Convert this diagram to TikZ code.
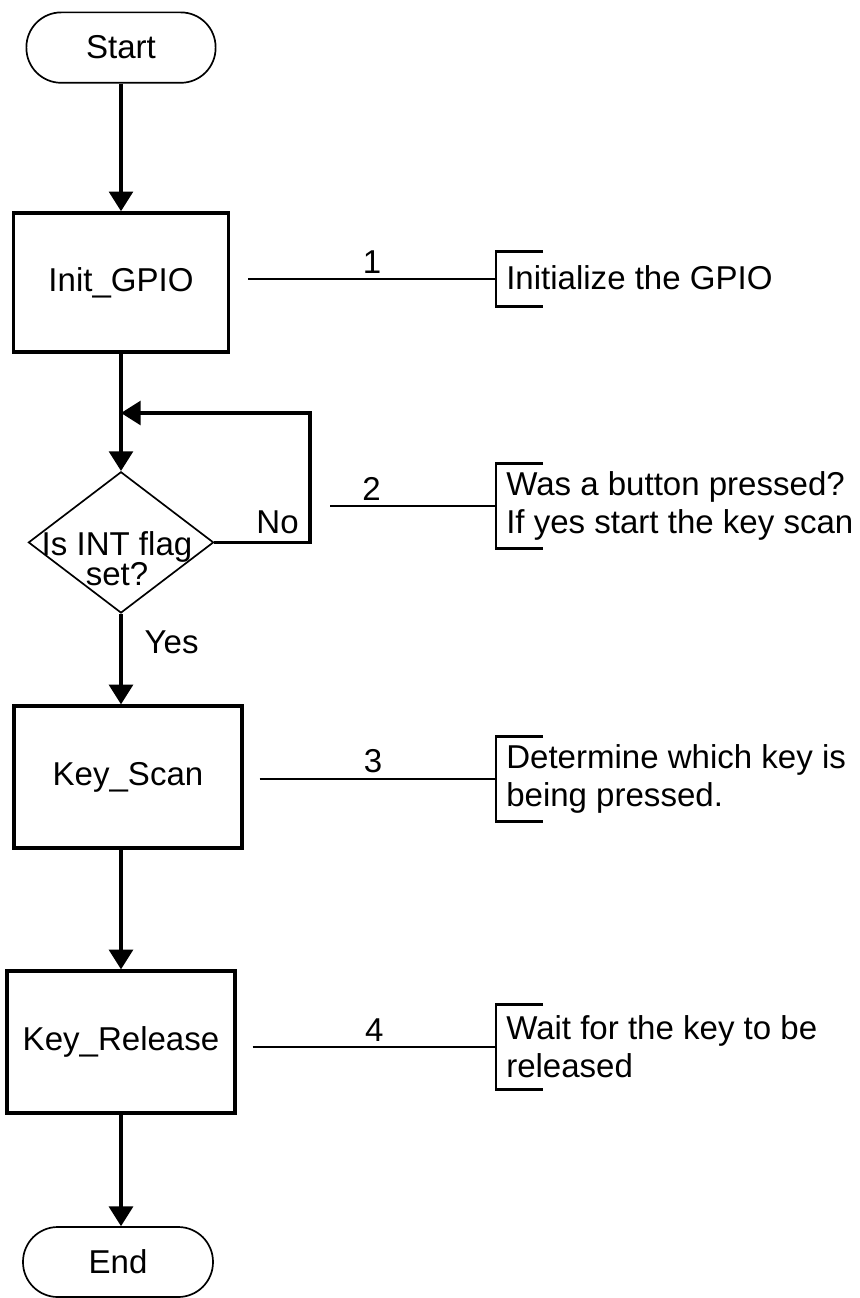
\documentclass[tikz,border=0pt]{standalone}
\usepackage{fontspec}
\setmainfont{Liberation Sans}
\usetikzlibrary{arrows.meta,shapes.geometric,positioning}

\begin{document}
\begin{tikzpicture}[
    font=\fontsize{23.5}{27}\selectfont,
    term/.style={draw, line width=1.2pt, rounded corners=0.87cm, minimum width=4.73cm, minimum height=1.76cm, inner sep=0pt},
    proc/.style={draw, line width=2.4pt, minimum width=5.7cm, minimum height=3.55cm, inner sep=0pt},
    decision/.style={draw, diamond, line width=1.2pt, minimum width=4.63cm, minimum height=3.53cm, inner sep=0pt},
    arr/.style={-{Triangle[length=14pt,width=17pt]}, line width=2.3pt},
    link/.style={line width=2.1pt},
    brk/.style={line width=2.1pt},
    note/.style={anchor=west, align=left, inner xsep=0.25cm, inner ysep=0pt, minimum height=2.1cm},
    num/.style={above, inner sep=3pt},
    lbl/.style={inner sep=0pt}
]
\useasboundingbox (0,0) rectangle (21.475,-32.45);

% flow
\node[term] (start) at (3.025,-1.19) {Start};
\node[proc, minimum width=5.375cm, minimum height=3.475cm] (init) at (3.025,-7.06) {Init\_GPIO};
\node[decision] (flag) at (3.025,-13.56) {};
\node[lbl, align=center, font=\fontsize{23.5}{21.5}\selectfont] (flagtxt) at (2.925,-13.975) {Is INT flag\\set?};
\node[proc] (keyscan) at (3.2,-19.425) {Key\_Scan};
\node[proc] (keyrel) at (3.025,-26.05) {Key\_Release};
\node[term, minimum width=4.75cm, minimum height=1.75cm] (stop) at (2.95,-31.55) {End};

\coordinate (loopin) at (3.025,-10.325);
\coordinate (loopR) at (7.75,-10.325);

\draw[arr] (start.south) -- (start.south |- init.north);
\draw[arr] (init.south) -- (flag.north);
\draw[arr] (flag.east) -- node[pos=0.66, above, inner sep=5pt] (nolbl) {No} (flag.east -| loopR) -- (loopR) -- (loopin);
\draw[arr] (flag.south) -- node[lbl, pos=0.31, anchor=west, xshift=0.55cm] (yeslbl) {Yes} (flag.south |- keyscan.north);
\draw[arr] (keyscan.south -| keyrel.north) -- (keyrel.north);
\draw[arr] (keyrel.south) -- (keyrel.south |- stop.north);

% notes
\node[note, minimum height=1.375cm, text depth=0.25em] (n1) at (12.4,-6.975) {Initialize the GPIO};
\node[note] (n2) at (12.4,-12.65) {Was a button pressed?\\If yes start the key scan};
\node[note] (n3) at (12.4,-19.475) {Determine which key is\\being pressed.};
\node[note] (n4) at (12.4,-26.175) {Wait for the key to be\\released};

\foreach \n in {n1,n2,n3,n4}
  \draw[brk] ([xshift=1.175cm]\n.north west) -- (\n.north west) -- (\n.south west) -- ([xshift=1.175cm]\n.south west);

\draw[link] ([xshift=0.45cm]init.east |- n1.west) -- node[num] (l1) {1} (n1.west);
\draw[link] ([xshift=0.5cm]loopR |- n2.west) -- node[num, pos=0.25] (l2) {2} (n2.west);
\draw[link] ([xshift=0.4cm]keyscan.east |- n3.west) -- node[num, pos=0.48] (l3) {3} (n3.west);
\draw[link] ([xshift=0.4cm]keyrel.east |- n4.west) -- node[num] (l4) {4} (n4.west);
\end{tikzpicture}
\end{document}
